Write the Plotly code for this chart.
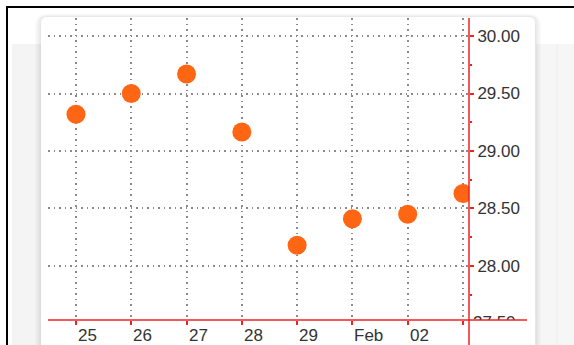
import plotly.graph_objects as go

# Daily closing prices, trading days only
dates = ["2010-01-25", "2010-01-26", "2010-01-27", "2010-01-28",
         "2010-01-29", "2010-02-01", "2010-02-02", "2010-02-03"]
prices = [29.32, 29.50, 29.67, 29.165, 28.18, 28.41, 28.45, 28.63]
tick_labels = ["25", "26", "27", "28", "29", "Feb", "02", ""]
y_ticks = [28.0, 28.5, 29.0, 29.5, 30.0]
y_low_tick = 27.5   # falls on the bottom edge, mostly hidden

W, H = 574, 345
L, R, T, B = 48, 532, 18, 320   # paper area in pixels
AX = 469                        # x position of the price axis
Y_RANGE = [27.530, 30.157]


def px(x):
    return (x - L) / (R - L)


def py(y):
    return (B - y) / (B - T)


def rounded(x0, y0, x1, y1, r):
    a, b, c, d = px(x0), py(y0), px(x1), py(y1)
    rx = r / (R - L)
    ry = r / (B - T)
    return (f"M {a+rx},{b} L {c-rx},{b} Q {c},{b} {c},{b-ry} "
            f"L {c},{d+ry} Q {c},{d} {c-rx},{d} L {a+rx},{d} "
            f"Q {a},{d} {a},{d+ry} L {a},{b-ry} Q {a},{b} {a+rx},{b} Z")


shapes = []
# side panels behind the card
shapes.append(dict(type="rect", xref="paper", yref="paper", layer="below",
                   x0=px(12), x1=px(41), y0=py(44), y1=py(350),
                   fillcolor="#f4f4f4", line=dict(width=0)))
shapes.append(dict(type="rect", xref="paper", yref="paper", layer="below",
                   x0=px(536), x1=px(580), y0=py(44), y1=py(350),
                   fillcolor="#f6f6f6", line=dict(width=0)))
shapes.append(dict(type="line", xref="paper", yref="paper", layer="below",
                   x0=px(557), x1=px(557), y0=py(44), y1=py(350),
                   line=dict(color="#eeeeee", width=1)))
# soft shadow around the card
for i in range(6, 0, -1):
    shapes.append(dict(type="path", xref="paper", yref="paper", layer="below",
                       path=rounded(41 - i, 17 - i * 0.5, 535 + i, 360, 6 + i),
                       fillcolor="rgba(0,0,0,0.015)", line=dict(width=0)))
# the white card
shapes.append(dict(type="path", xref="paper", yref="paper", layer="below",
                   path=rounded(41, 17, 535, 360, 6),
                   fillcolor="white", line=dict(width=0)))
# black frame along top and left
shapes.append(dict(type="rect", xref="paper", yref="paper", layer="above",
                   x0=px(6), x1=px(580), y0=py(6), y1=py(8),
                   fillcolor="black", line=dict(width=0)))
shapes.append(dict(type="rect", xref="paper", yref="paper", layer="above",
                   x0=px(6), x1=px(8), y0=py(6), y1=py(350),
                   fillcolor="black", line=dict(width=0)))
# red axis lines crossing at the bottom-right corner
shapes.append(dict(type="line", xref="paper", yref="paper", layer="above",
                   x0=0, x1=px(527), y0=0, y1=0,
                   line=dict(color="#ee2222", width=1.5)))
shapes.append(dict(type="line", xref="paper", yref="paper", layer="above",
                   x0=px(AX), x1=px(AX), y0=1, y1=py(350),
                   line=dict(color="#ee2222", width=1.5)))

font = dict(family="Liberation Sans, Arial, sans-serif", size=17, color="#333333")
grid_dash = "1.5px,4px"

fig = go.Figure()
fig.add_trace(go.Scatter(
    x=dates, y=prices, mode="markers",
    marker=dict(size=19, color="#ff6614", line=dict(width=0)),
    hoverinfo="x+y",
))
# lowest price label, clipped by a narrow strip beside the price axis
fig.add_trace(go.Scatter(
    x=[0], y=[y_low_tick], mode="text", text=[f"{y_low_tick:.2f}"],
    textposition="middle right", textfont=font, cliponaxis=True,
    xaxis="x2", yaxis="y2", hoverinfo="skip",
))

# day labels start just right of their tick
annotations = [
    dict(x=d, y=0, xref="x", yref="paper", text=t, showarrow=False,
         xanchor="left", yanchor="top", xshift=0, yshift=-4, font=font)
    for d, t in zip(dates, tick_labels) if t
]

fig.update_layout(
    width=W, height=H,
    margin=dict(l=L, r=W - R, t=T, b=H - B, autoexpand=False),
    paper_bgcolor="white", plot_bgcolor="rgba(0,0,0,0)",
    showlegend=False, font=font, shapes=shapes, annotations=annotations,
    xaxis=dict(
        type="category", categoryorder="array", categoryarray=dates,
        range=[-0.506, 7.109], automargin=False, domain=[0, px(AX)],
        tickvals=dates, showticklabels=False,
        showgrid=True, gridcolor="#8a8a8a", gridwidth=1.5, griddash=grid_dash,
        ticks="outside", ticklen=4, tickcolor="#ee2222", tickwidth=1.5,
        showline=False, zeroline=False,
    ),
    yaxis=dict(
        side="right", range=Y_RANGE, automargin=False,
        tickvals=y_ticks, tickformat=".2f",
        showgrid=True, gridcolor="#8a8a8a", gridwidth=1.5, griddash=grid_dash,
        ticks="outside", ticklen=4, tickcolor="#ee2222", tickwidth=1.5,
        minor=dict(ticks="outside", ticklen=2, tickcolor="#ee2222",
                   tickwidth=1.5, dtick=0.25, showgrid=False),
        showline=False, zeroline=False, tickfont=font,
    ),
    xaxis2=dict(domain=[px(473), 1], range=[0, 1], anchor="y2",
                visible=False, fixedrange=True),
    yaxis2=dict(domain=[0, 1], range=Y_RANGE, anchor="x2",
                visible=False, fixedrange=True),
)

fig.write_html("out.html")
